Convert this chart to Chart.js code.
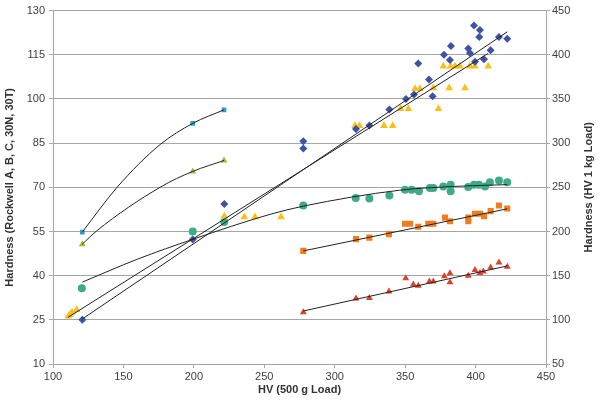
<!DOCTYPE html>
<html>
<head>
<meta charset="utf-8">
<script src="https://cdn.jsdelivr.net/npm/chart.js@4.4.0/dist/chart.umd.min.js"></script>
<style>
  html, body { margin: 0; padding: 0; background: #fff; }
  canvas { display: block; }
</style>
</head>
<body>
<canvas id="hardnessChart" width="600" height="400"></canvas>
<script>
// ===== Datos =====
// Eje X: HV (500 g); eje izq.: Rockwell; eje der.: HV 1 kg
const xTicks = [100, 150, 200, 250, 300, 350, 400, 450];
const leftTicks = [10, 25, 40, 55, 70, 85, 100, 115, 130];
const rightTicks = [50, 100, 150, 200, 250, 300, 350, 400, 450];

// HV 1 kg (eje derecho) - rombos azules
const blueX = [120.8, 199.2, 221.6, 277.7, 277.7, 315.1, 324.6, 338.8, 350.6, 356.3, 359.3, 366.9, 369.5,
  377.6, 381.8, 382.5, 394.8, 396, 398.9, 399.6, 403.1, 402.6, 406, 410.7, 416.6, 422.5];
const blueY = [100, 191, 231, 294, 302, 316, 320, 338, 350, 355, 390, 372, 353,
  400, 394, 410, 407, 402, 433, 392, 428, 420, 395, 405, 420, 418];

// Triángulos amarillos
const yellowX = [110.9, 112, 113.5, 116.8, 221.6, 235.8, 243.4, 261.9, 314.5, 317.5, 335, 341.2, 346.8, 352.3,
  357, 360.5, 370, 373.6, 377.1, 381.3, 382.3, 385.4, 388.9, 392.5, 396, 399.6, 409];
const yellowY = [26.2, 26.8, 27.6, 28.4, 60.2, 59.9, 59.9, 59.9, 90.9, 90.9, 90.9, 90.9, 96.7, 96.7,
  103.5, 103.5, 103.7, 96.7, 111.1, 103.7, 111.1, 111.1, 111.1, 103.7, 111.1, 111.1, 111.1];

// Círculos verde azulado
const tealX = [120.5, 199.2, 221.6, 277.7, 314.9, 324.6, 338.8, 349.9, 354.6, 359.8, 367.6, 370, 377.1,
  382.3, 382.3, 394.8, 398.9, 402.4, 406.7, 410.2, 416.6, 422.5];
const tealY = [35.7, 55, 58.2, 63.8, 66.4, 66.2, 67.2, 69.2, 69.2, 68.7, 69.8, 69.8, 70.3,
  70.9, 68.7, 70.1, 70.9, 70.9, 70.3, 71.7, 72.3, 71.7];

// Cuadrados naranjas
const orangeX = [277.7, 315.1, 324.6, 338.5, 349.9, 353.4, 359.3, 366.4, 370, 378.3, 381.8, 394.8, 394.8,
  399.6, 403.1, 406, 410.7, 416.6, 422.5];
const orangeY = [48.4, 52.4, 52.9, 54.1, 57.6, 57.6, 56.6, 57.6, 57.6, 59.7, 58.5, 59.7, 58.5,
  61, 61, 60.2, 61.9, 63.8, 62.8];

// Triángulos rojos
const redX = [277.7, 315.1, 324.6, 338.5, 350.4, 355.8, 359.3, 367.2, 370, 377.8, 381.8, 381.8, 394.8,
  399.6, 403.1, 405.5, 410.7, 416.6, 422.5];
const redY = [27.6, 32.2, 32.4, 34.6, 39.1, 37, 36.6, 38, 38, 39.8, 40.8, 37.8, 40,
  41.9, 40.9, 41.4, 42.8, 44.5, 43];

// Cuadrados celestes y triángulos verdes (3 puntos cada uno)
const cyanX = [120.8, 199.2, 221.4];
const cyanY = [54.8, 91.7, 96.3];
const greenX = [120.8, 199.2, 221.4];
const greenY = [50.7, 75.4, 79.1];

// Líneas de tendencia
const cyanTrendX = [120.8, 145.5, 176, 199.2, 221.4];
const cyanTrendY = [54.8, 70, 84.5, 91.7, 96.3];
const greenTrendX = [120.8, 131, 176, 199.2, 221.4];
const greenTrendY = [50.7, 55.2, 70, 75.4, 79.1];
const tealTrendX = [120.8, 160, 199.6, 254, 277.7, 346, 385, 422.5];
const tealTrendY = [37.8, 45.6, 52.4, 60.8, 63.6, 69, 70.3, 70.9];
const blueTrendX = [120.8, 422.5];
const blueTrendY = [101, 426];
const yellowTrendX = [110.5, 409];
const yellowTrendY = [25.8, 115.5];
const orangeTrendX = [277.7, 422.5];
const orangeTrendY = [48.4, 62.7];
const redTrendX = [277.7, 422.5];
const redTrendY = [28, 43.3];

const rightTitle = "Hardness (HV 1 kg Load)";

const pts = (xs, ys) => xs.map((x, i) => ({ x: x, y: ys[i] }));

function markers(xs, ys, color, style, radius, axis) {
  return {
    data: pts(xs, ys),
    yAxisID: axis || "y",
    pointStyle: style,
    pointRadius: radius,
    backgroundColor: color,
    borderColor: color,
    borderWidth: 0,
    showLine: false,
    order: 1,
  };
}

function trend(xs, ys, axis, curved) {
  return {
    data: pts(xs, ys),
    yAxisID: axis || "y",
    showLine: true,
    pointRadius: 0,
    borderColor: "#222",
    borderWidth: 1,
    cubicInterpolationMode: curved ? "monotone" : "default",
    fill: false,
    order: 0,
  };
}

const tickFont = { family: "'Liberation Sans', Arial, sans-serif", size: 11 };
const titleFont = { family: "'Liberation Sans', Arial, sans-serif", size: 11, weight: "bold" };
const gridGray = "#a6a6a6";

// Título del eje derecho girado como el izquierdo (de abajo hacia arriba)
const rightTitlePlugin = {
  id: "rightTitle",
  afterDraw(chart) {
    const ctx = chart.ctx;
    const area = chart.chartArea;
    ctx.save();
    ctx.translate(589, (area.top + area.bottom) / 2);
    ctx.rotate(-Math.PI / 2);
    ctx.font = "bold 11px 'Liberation Sans', Arial, sans-serif";
    ctx.fillStyle = "#333";
    ctx.textAlign = "center";
    ctx.textBaseline = "middle";
    ctx.fillText(rightTitle, 0, 0);
    ctx.restore();
  },
};

new Chart(document.getElementById("hardnessChart").getContext("2d"), {
  type: "scatter",
  data: {
    datasets: [
      trend(cyanTrendX, cyanTrendY, "y", true),
      trend(greenTrendX, greenTrendY, "y", true),
      trend(tealTrendX, tealTrendY, "y", true),
      trend(blueTrendX, blueTrendY, "y2", false),
      trend(yellowTrendX, yellowTrendY, "y", false),
      trend(orangeTrendX, orangeTrendY, "y", false),
      trend(redTrendX, redTrendY, "y", false),
      markers(blueX, blueY, "#3f51a5", "rectRot", 4, "y2"),
      markers(yellowX, yellowY, "#f7c11c", "triangle", 4.5),
      markers(tealX, tealY, "#3daa8a", "circle", 4),
      markers(orangeX, orangeY, "#f47c20", "rect", 4.3),
      markers(redX, redY, "#d8432a", "triangle", 4),
      markers(cyanX, cyanY, "#2f9fc4", "rect", 3.3),
      markers(greenX, greenY, "#9bbb3a", "triangle", 4),
    ],
  },
  plugins: [rightTitlePlugin],
  options: {
    responsive: false,
    animation: false,
    layout: { padding: { top: 8, left: 0, right: 0, bottom: 0 } },
    plugins: {
      legend: { display: false },
      tooltip: { enabled: false },
    },
    scales: {
      x: {
        type: "linear",
        min: xTicks[0],
        max: xTicks[xTicks.length - 1],
        afterBuildTicks: (s) => { s.ticks = xTicks.map((v) => ({ value: v })); },
        afterFit: (s) => { s.height = 36; },
        ticks: { font: tickFont, color: "#404040", padding: 2 },
        grid: { drawOnChartArea: false, color: gridGray, tickLength: 4 },
        border: { color: gridGray },
        title: { display: true, text: "HV (500 g Load)", font: titleFont, color: "#333", padding: { top: 0, bottom: 3 } },
      },
      y: {
        type: "linear",
        position: "left",
        min: leftTicks[0],
        max: leftTicks[leftTicks.length - 1],
        afterBuildTicks: (s) => { s.ticks = leftTicks.map((v) => ({ value: v })); },
        afterFit: (s) => { s.width = 53; },
        ticks: { font: tickFont, color: "#404040", padding: 4 },
        grid: { color: gridGray, lineWidth: 1, tickLength: 4 },
        border: { color: gridGray },
        title: { display: true, text: "Hardness (Rockwell A, B, C, 30N, 30T)", font: titleFont, color: "#333", padding: 3 },
      },
      y2: {
        type: "linear",
        position: "right",
        min: rightTicks[0],
        max: rightTicks[rightTicks.length - 1],
        afterBuildTicks: (s) => { s.ticks = rightTicks.map((v) => ({ value: v })); },
        afterFit: (s) => { s.width = 54; },
        ticks: { font: tickFont, color: "#404040", padding: 2 },
        grid: { drawOnChartArea: false, color: gridGray, tickLength: 4 },
        border: { color: gridGray },
        title: { display: false },
      },
    },
  },
});
</script>
</body>
</html>
